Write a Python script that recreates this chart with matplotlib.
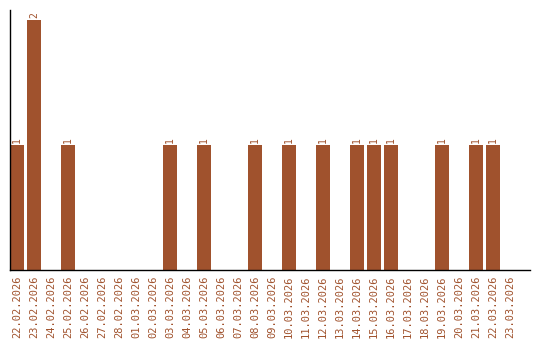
import numpy as np
import matplotlib.pyplot as plt

# Data
dates = ['22.02.2026', '23.02.2026', '24.02.2026', '25.02.2026', '26.02.2026',
         '27.02.2026', '28.02.2026', '01.03.2026', '02.03.2026', '03.03.2026',
         '04.03.2026', '05.03.2026', '06.03.2026', '07.03.2026', '08.03.2026',
         '09.03.2026', '10.03.2026', '11.03.2026', '12.03.2026', '13.03.2026',
         '14.03.2026', '15.03.2026', '16.03.2026', '17.03.2026', '18.03.2026',
         '19.03.2026', '20.03.2026', '21.03.2026', '22.03.2026', '23.03.2026']
counts = [1, 2, 0, 1, 0, 0, 0, 0, 0, 1,
          0, 1, 0, 0, 1, 0, 1, 0, 1, 0,
          1, 1, 1, 0, 0, 1, 0, 1, 1, 0]

col = '#A0522D'

fig = plt.figure(figsize=(5.4, 3.4), dpi=100)
ax = fig.add_axes([10/540, 70/340, 520/540, 260/340])

x = np.arange(len(dates))
w = 14/17
ax.bar(x, counts, width=w, align='edge', color=col)

# Value labels
for xi, c in zip(x, counts):
    if c > 0:
        ax.text(xi + w/2, c + 0.02, str(c), rotation=90, ha='center', va='bottom',
                color=col, fontsize=7, family='DejaVu Sans Mono')

ax.set_xticks(x + w/2)
ax.set_xticklabels(dates, rotation=90, color=col, fontsize=7.5,
                   family='DejaVu Sans Mono')
ax.tick_params(axis='x', length=0, pad=4)
ax.set_yticks([])
ax.set_xlim(0, 520/17)
ax.set_ylim(0, 2.08)
for s in ['top', 'right']:
    ax.spines[s].set_visible(False)
ax.spines['left'].set_linewidth(1)
ax.spines['bottom'].set_linewidth(1)

fig.savefig('out.png', dpi=100)
